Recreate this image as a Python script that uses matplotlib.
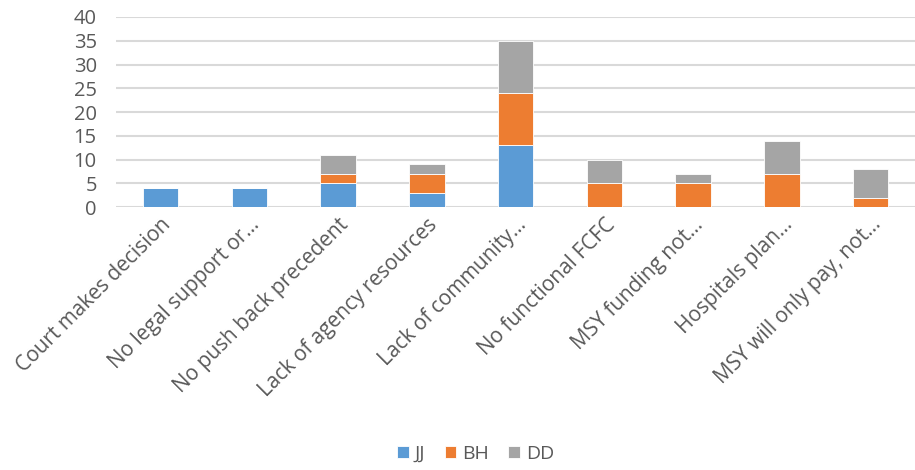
import matplotlib.pyplot as plt
import numpy as np

plt.rcParams['font.family'] = ['Open Sans', 'DejaVu Sans']

categories = ['Court makes decision', 'No legal support or…', 'No push back precedent',
              'Lack of agency resources', 'Lack of community…', 'No functional FCFC',
              'MSY funding not…', 'Hospitals plan…', 'MSY will only pay, not…']
jj = [4, 4, 5, 3, 13, 0, 0, 0, 0]
bh = [0, 0, 2, 4, 11, 5, 5, 7, 2]
dd = [0, 0, 4, 2, 11, 5, 2, 7, 6]

colors = {'JJ': '#5B9BD5', 'BH': '#ED7D31', 'DD': '#A5A5A5'}
text_color = '#595959'

fig = plt.figure(figsize=(9.15, 4.7), dpi=100)
ax = fig.add_axes([0.127, 0.559, 0.873, 0.405])

x = np.arange(len(categories))
w = 0.4
bottom = np.zeros(len(categories))
for name, vals in [('JJ', jj), ('BH', bh), ('DD', dd)]:
    vals = np.array(vals)
    ax.bar(x, vals, w, bottom=bottom, color=colors[name], label=name,
           edgecolor='white', linewidth=0.6, zorder=3)
    bottom += vals

ax.set_xlim(-0.5, len(categories) - 0.5)
ax.set_ylim(0, 40)
ax.set_yticks(range(0, 41, 5))
ax.yaxis.grid(True, color='#D9D9D9', linewidth=1.5, zorder=0)
for s in ['top', 'right', 'left', 'bottom']:
    ax.spines[s].set_visible(False)
ax.tick_params(axis='y', length=0, colors=text_color, labelsize=14.5, pad=14)
ax.set_xticks(x)
ax.set_xticklabels(categories, rotation=45, ha='right', rotation_mode='anchor')
ax.tick_params(axis='x', length=0, colors=text_color, labelsize=15, pad=5)

fig.legend(loc='lower center', ncol=3, frameon=False, fontsize=14,
           bbox_to_anchor=(0.52, -0.022), handlelength=0.6, handleheight=0.6,
           handletextpad=0.3, columnspacing=1.0, labelcolor=text_color)

fig.savefig('out.png', dpi=100)
